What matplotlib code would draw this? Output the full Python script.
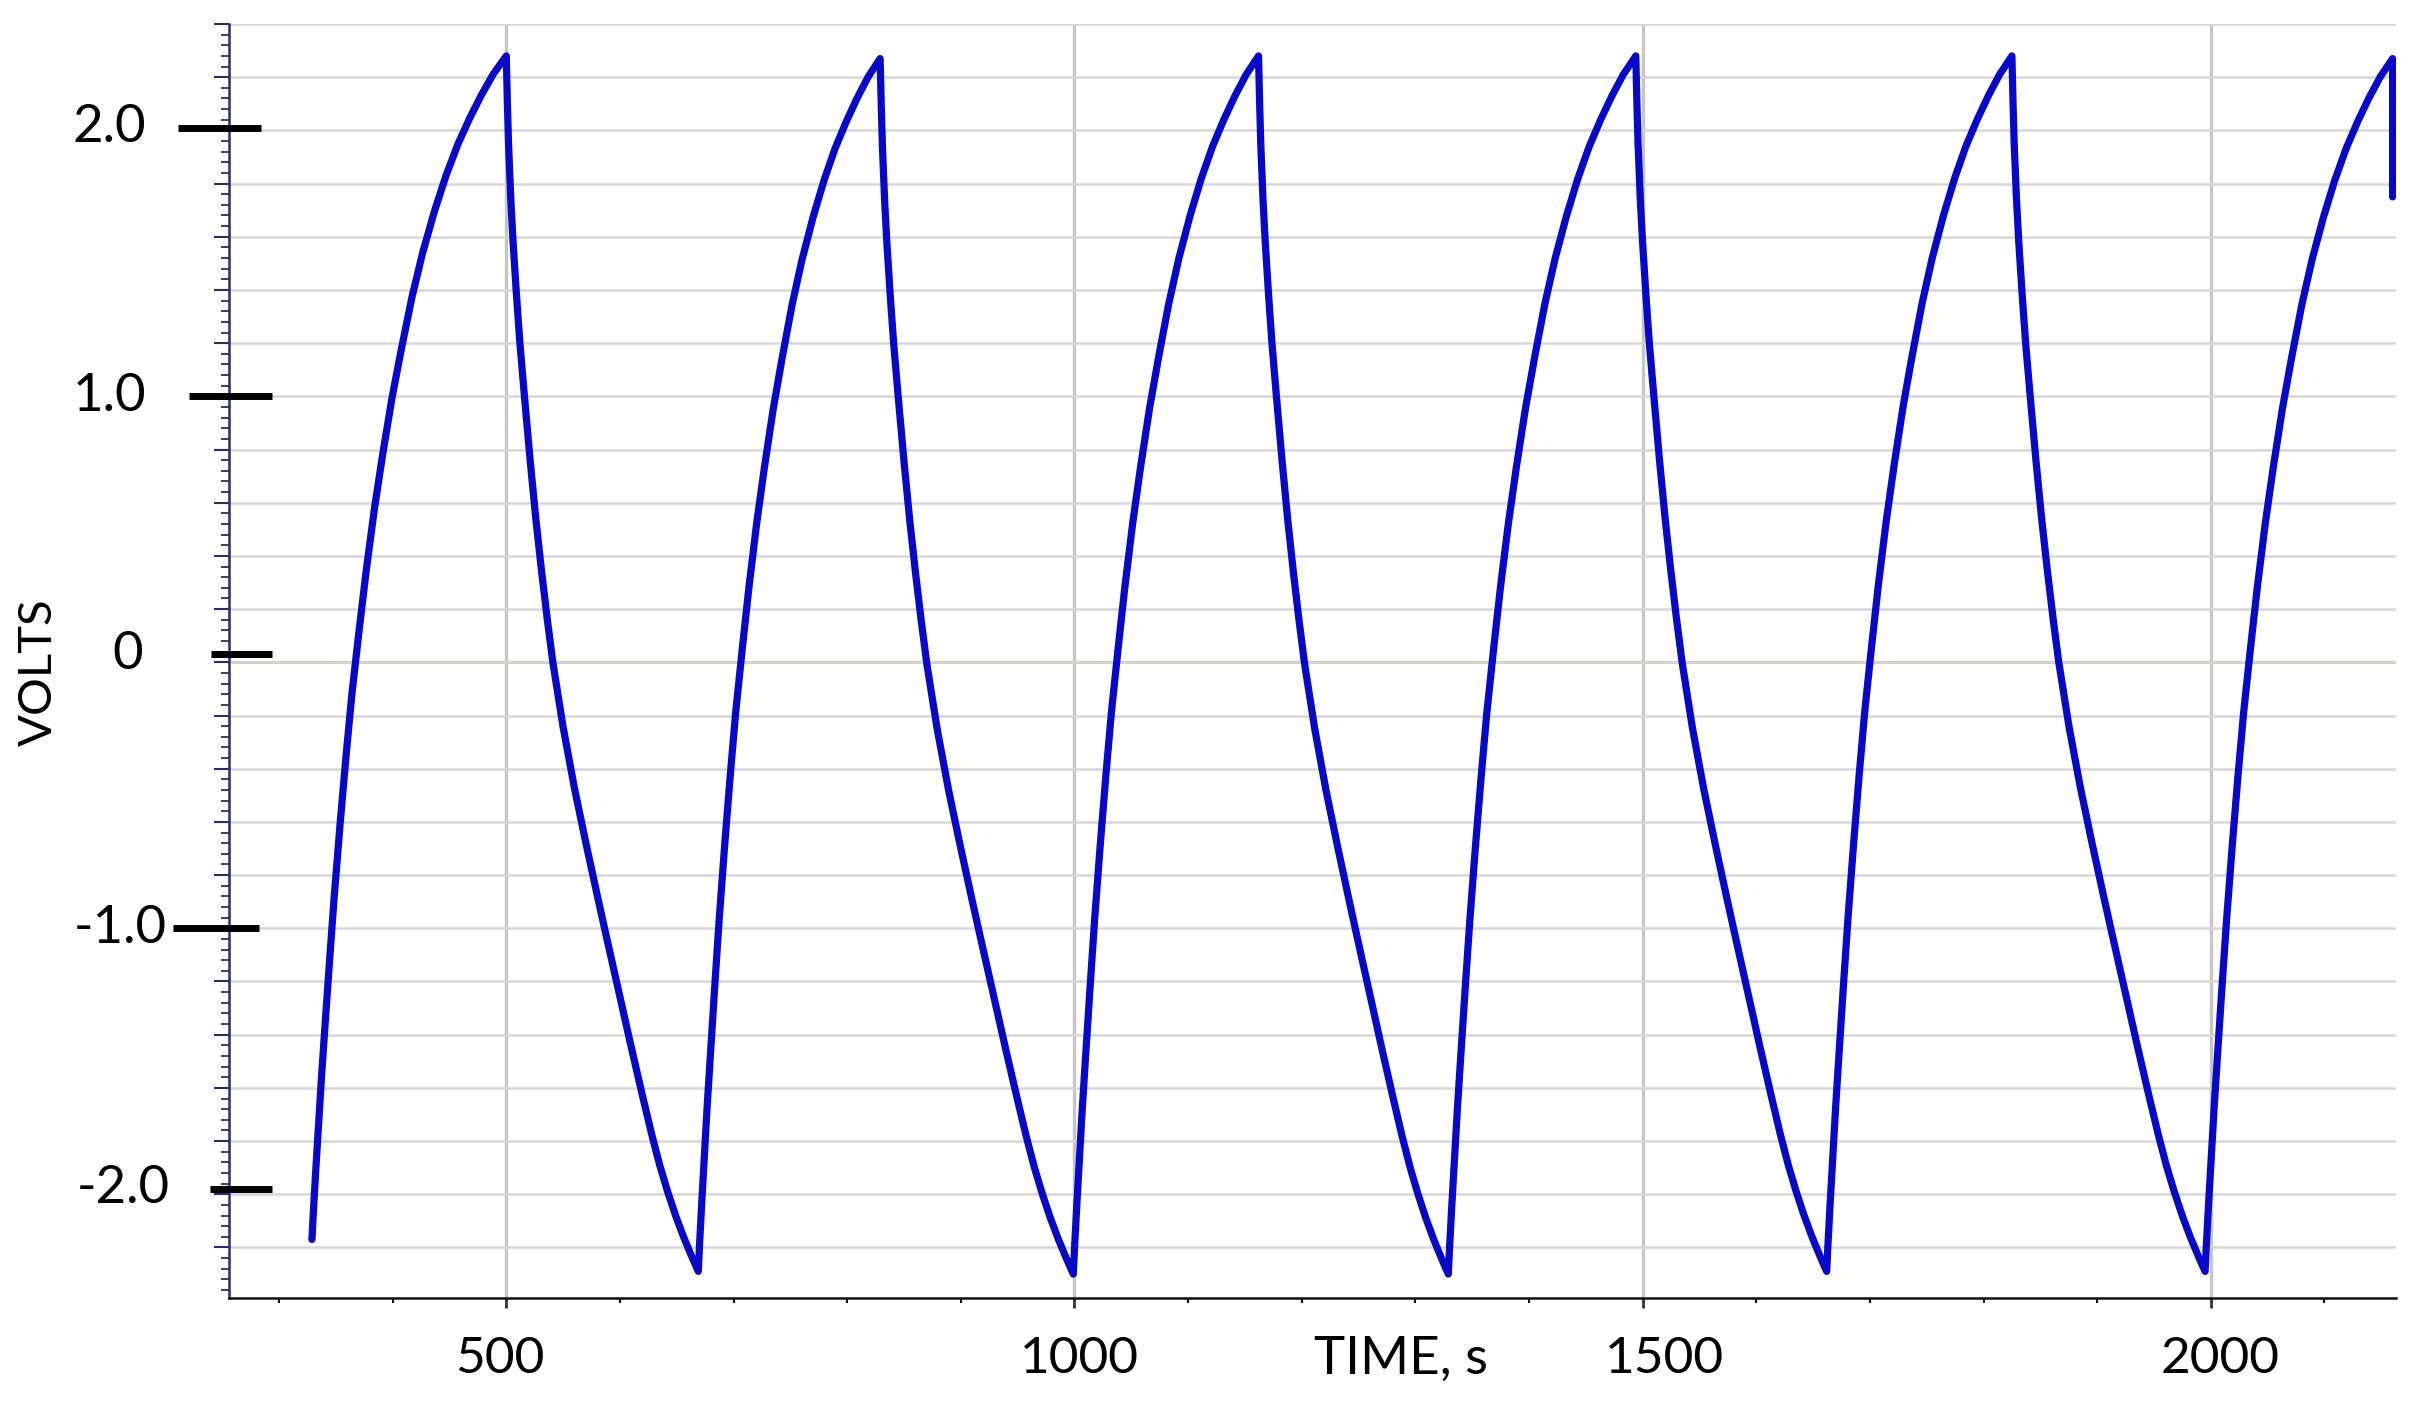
import matplotlib
matplotlib.use("Agg")
from matplotlib import pyplot as plt
from matplotlib import transforms as mtransforms
from matplotlib.ticker import MultipleLocator
import numpy as np

# turning points of the trace (time in s, volts)
turn_t = [329, 500, 669, 829, 999, 1162, 1329, 1494, 1662, 1825, 1995, 2160]
turn_v = [-2.17, 2.28, -2.29, 2.27, -2.30, 2.28, -2.30, 2.28, -2.29, 2.28, -2.29, 2.27]
end_v = 1.75  # little drop at the right edge

# shape of one charging half-cycle (s after the trough, volts)
rise_dt = [0, 1, 3, 5, 8, 11, 15, 19, 24, 29, 34, 40, 46, 53, 60, 68, 76, 85,
           94, 104, 114, 124, 134, 144, 154, 165]
rise_v = [-2.29, -2.20, -2.04, -1.89, -1.67, -1.47, -1.21, -0.96, -0.68, -0.42,
          -0.18, 0.06, 0.29, 0.53, 0.74, 0.96, 1.15, 1.35, 1.52, 1.68, 1.82,
          1.94, 2.04, 2.13, 2.21, 2.28]

# shape of one discharging half-cycle (s after the peak, volts)
fall_dt = [0, 1, 2, 4, 6, 9, 12, 16, 21, 26, 31, 36, 41, 50, 60, 70, 80, 87,
           100, 110, 120, 128, 135, 142, 149, 156, 163, 169]
fall_v = [2.28, 2.10, 1.95, 1.74, 1.58, 1.38, 1.20, 1.00, 0.76, 0.54, 0.345,
          0.165, 0.00, -0.243, -0.473, -0.678, -0.875, -1.01, -1.258, -1.447,
          -1.632, -1.775, -1.89, -1.99, -2.08, -2.16, -2.232, -2.29]

# big hand drawn ticks on the volts axis: label, value, tick x-range (px), label right edge (px)
big_labels = ["2.0", "1.0", "0", "-1.0", "-2.0"]
big_vals = [2.01, 1.0, 0.03, -1.0, -1.98]
big_x0 = [178, 189, 211, 173, 210]
big_x1 = [261, 272, 272, 259, 272]
label_right = [146, 146, 143, 167, 170]

time_labels = ["500", "1000", "1500", "2000"]
time_label_x = [494, 1004, 1519, 2008]

W, H = 2421, 1401
fig = plt.figure(figsize=(W / 100, H / 100), dpi=100)
ax_l, ax_r, ax_t, ax_b = 229, 2396, 24, 1298
ax = fig.add_axes([ax_l / W, 1 - ax_b / H, (ax_r - ax_l) / W, (ax_b - ax_t) / H])


def build_trace():
    t_all, v_all = [], []
    for k in range(len(turn_t) - 1):
        t0, t1 = turn_t[k], turn_t[k + 1]
        v0, v1 = turn_v[k], turn_v[k + 1]
        if v1 > v0:
            dt, sv = np.array(rise_dt, float), np.array(rise_v, float)
        else:
            dt, sv = np.array(fall_dt, float), np.array(fall_v, float)
        tt = t0 + dt / dt[-1] * (t1 - t0)
        vv = v0 + (sv - sv[0]) / (sv[-1] - sv[0]) * (v1 - v0)
        if k > 0:
            tt, vv = tt[1:], vv[1:]
        t_all.extend(tt)
        v_all.extend(vv)
    t_all.append(turn_t[-1])
    v_all.append(end_v)
    return t_all, v_all


t, v = build_trace()

ax.set_xlim(256, 2163)
ax.set_ylim(-2.39, 2.40)

# grid
ax.yaxis.set_major_locator(MultipleLocator(0.2))
ax.yaxis.set_minor_locator(MultipleLocator(0.04))
ax.xaxis.set_major_locator(MultipleLocator(500))
ax.xaxis.set_minor_locator(MultipleLocator(100))
ax.grid(axis="y", which="major", color="#d6d6d6", lw=1.8, zorder=0)
ax.grid(axis="x", which="major", color="#c6c6c6", lw=2.4, zorder=0)
ax.axhline(0, color="#d9a24a", lw=1.8, zorder=1)

ax.plot(t, v, color="#0808c8", lw=5.2, zorder=3, solid_joinstyle="round",
        solid_capstyle="round")

for s in ["top", "right"]:
    ax.spines[s].set_visible(False)
ax.spines["left"].set_color("#2c2c6c")
ax.spines["left"].set_linewidth(1.8)
ax.spines["bottom"].set_color("#111111")
ax.spines["bottom"].set_linewidth(1.8)

ax.tick_params(axis="y", which="major", direction="out", length=11, width=1.5,
               color="#2c2c6c", labelleft=False)
ax.tick_params(axis="y", which="minor", direction="out", length=6, width=1.3,
               color="#2c2c6c")
ax.tick_params(axis="x", which="major", direction="out", length=7, width=2.0,
               color="#333333", labelbottom=False)
ax.tick_params(axis="x", which="minor", direction="out", length=3.5, width=1.5,
               color="#111111")

# volts labels with their heavy black ticks
ywidth = ax_r - ax_l
blend_y = mtransforms.blended_transform_factory(ax.transAxes, ax.transData)
for lab, val, x0, x1, xr in zip(big_labels, big_vals, big_x0, big_x1, label_right):
    ax.plot([(x0 - ax_l) / ywidth, (x1 - ax_l) / ywidth], [val, val], color="black",
            lw=5, transform=blend_y, clip_on=False, solid_capstyle="butt", zorder=5)
    ax.text((xr - ax_l) / ywidth, val, lab, transform=blend_y, ha="right",
            va="center", fontsize=38, family="Lato", color="black")

# time labels
blend_x = mtransforms.blended_transform_factory(ax.transData, ax.transAxes)
for lab, xv in zip(time_labels, time_label_x):
    ax.text(xv, -0.048, lab, transform=blend_x, ha="center", va="center",
            fontsize=37, family="Lato", color="black")
ax.text(1287, -0.048, "TIME, s", transform=blend_x, ha="center", va="center",
        fontsize=38, family="Lato", color="black")

fig.text(39 / W, 1 - 672 / H, "VOLTS", rotation=90, ha="center", va="center",
         fontsize=34, family="Lato", color="black")

fig.savefig("out.png", dpi=100)
